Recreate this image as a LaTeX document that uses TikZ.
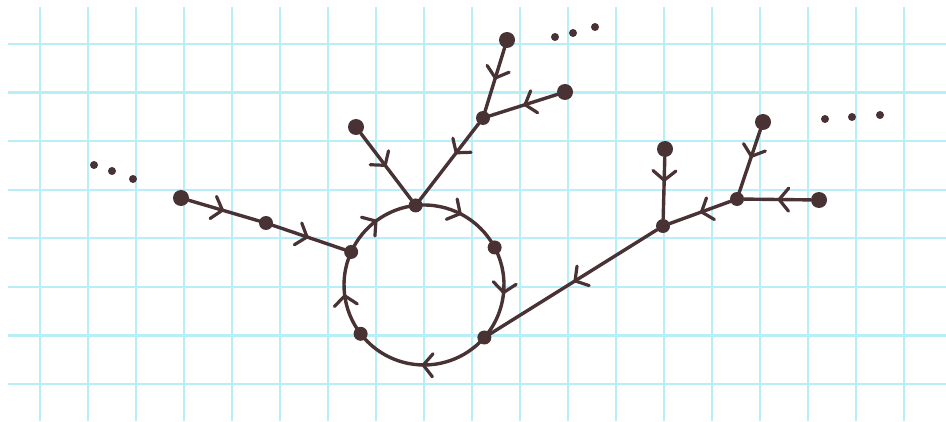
\documentclass[tikz,border=0pt]{standalone}
\usetikzlibrary{arrows.meta,decorations.markings,calc}
\definecolor{ink}{RGB}{72,50,52}
\definecolor{gridc}{RGB}{184,238,247}
\tikzset{
  edge/.style={draw=ink,line width=3.4pt,line cap=round},
  midarrow/.style={postaction={decorate,decoration={markings,
     mark=at position #1 with {\arrow{Straight Barb[length=9.5pt,width=23pt,line width=3.2pt,round]}}}}},
  midarrow/.default=0.5,
  leaf/.style={circle,fill=ink,inner sep=0pt,minimum size=16pt},
  inner/.style={circle,fill=ink,inner sep=0pt,minimum size=14pt},
  elli/.style={circle,fill=ink,inner sep=0pt,minimum size=8pt},
  gridline/.style={draw=gridc,line width=2.4pt}
}
\begin{document}
\begin{tikzpicture}[x=1pt,y=1pt]
\fill[white] (0,0) rectangle (946,421);
\useasboundingbox (0,0) rectangle (946,421);
% grid
\foreach \k in {0,...,18} {
  \draw[gridline] ({40+48*\k},0) -- ({40+48*\k},414);
}
\foreach \k in {0,...,7} {
  \draw[gridline] (8,{377-48.57*\k}) -- (946,{377-48.57*\k});
}
% circle points
\coordinate (cc) at (424,136);
\coordinate (ptop) at ($(cc)+(96:80)$);
\coordinate (pright) at ($(cc)+(28:80)$);
\coordinate (plr) at ($(cc)+(-41:80)$);
\coordinate (pll) at ($(cc)+(217.6:80)$);
\coordinate (pleft) at ($(cc)+(155.6:80)$);
% cycle arcs (clockwise)
\draw[edge,midarrow] (ptop) arc[start angle=96,end angle=28,radius=80];
\draw[edge,midarrow] (pright) arc[start angle=28,end angle=-41,radius=80];
\draw[edge,midarrow] (plr) arc[start angle=-41,end angle=-142.4,radius=80];
\draw[edge,midarrow] (pll) arc[start angle=217.6,end angle=155.6,radius=80];
\draw[edge,midarrow] (pleft) arc[start angle=155.6,end angle=96,radius=80];
% nodes
\node[inner] (ctop) at (ptop) {};
\node[inner] (cright) at (pright) {};
\node[inner] (clr) at (plr) {};
\node[inner] (cll) at (pll) {};
\node[inner] (cleft) at (pleft) {};
\node[leaf] (a) at (181,223) {};
\node[inner] (b) at (266,198) {};
\node[leaf] (l1) at (356,294) {};
\node[inner] (m) at (483,303) {};
\node[leaf] (t) at (507,381) {};
\node[leaf] (r1) at (565,329) {};
\node[inner] (p) at (663,195) {};
\node[leaf] (p1) at (665,272) {};
\node[inner] (q) at (737,222) {};
\node[leaf] (q1) at (763,299) {};
\node[leaf] (q2) at (819,221) {};
% tree edges
\draw[edge,midarrow] (a) -- (b);
\draw[edge,midarrow] (b) -- (cleft);
\draw[edge,midarrow] (l1) -- (ctop);
\draw[edge,midarrow=0.4] (m) -- (ctop);
\draw[edge,midarrow] (t) -- (m);
\draw[edge,midarrow] (r1) -- (m);
\draw[edge,midarrow] (p) -- (clr);
\draw[edge,midarrow=0.4] (p1) -- (p);
\draw[edge,midarrow] (q) -- (p);
\draw[edge,midarrow=0.45] (q1) -- (q);
\draw[edge,midarrow] (q2) -- (q);
% ellipses
\node[elli] (e1) at (94,256) {};
\node[elli] (e2) at (112,250) {};
\node[elli] (e3) at (133,242) {};
\node[elli] (e4) at (555,384) {};
\node[elli] (e5) at (573,388) {};
\node[elli] (e6) at (595,394) {};
\node[elli] (e7) at (825,302) {};
\node[elli] (e8) at (852,304) {};
\node[elli] (e9) at (880,306) {};
\end{tikzpicture}
\end{document}
